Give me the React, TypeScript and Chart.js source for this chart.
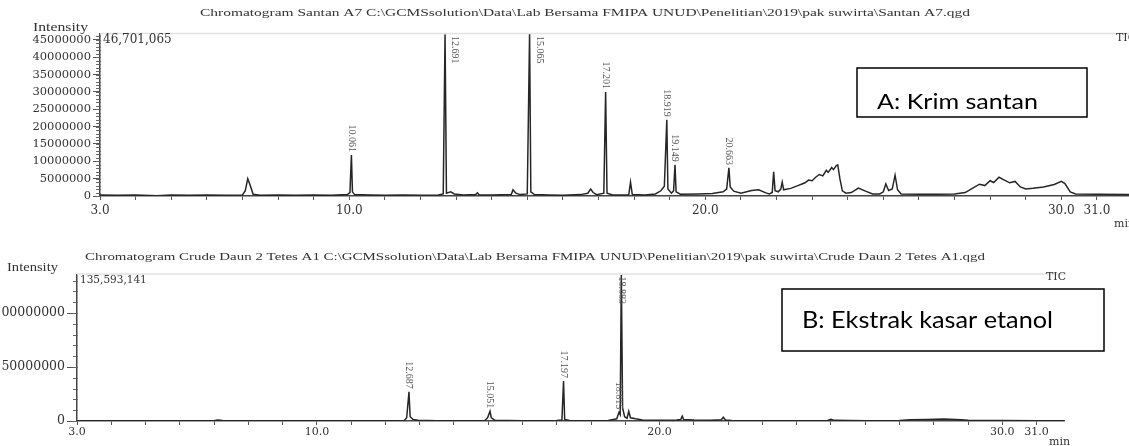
import React, { useEffect, useRef } from "react";
import { Chart, registerables } from "chart.js";
Chart.register(...registerables);

// ---------- Chromatogram A: Krim santan ----------
const topTitle =
  "Chromatogram Santan A7 C:\\GCMSsolution\\Data\\Lab Bersama FMIPA UNUD\\Penelitian\\2019\\pak suwirta\\Santan A7.qgd";
const topTimes = [
  3.0, 3.5, 4.0, 4.6, 5.0, 5.5, 6.0, 6.5, 7.0, 7.08, 7.15, 7.22, 7.3, 7.5, 8.0, 8.5, 9.0, 9.5,
  9.95, 10.02, 10.061, 10.09, 10.15, 10.6, 11.0, 11.5, 12.0, 12.5, 12.64, 12.691, 12.73, 12.85,
  12.95, 13.2, 13.55, 13.6, 13.65, 14.0, 14.55, 14.6, 14.68, 14.8, 15.0, 15.065, 15.1, 15.2,
  15.6, 16.0, 16.5, 16.7, 16.78, 16.85, 16.95, 17.15, 17.201, 17.24, 17.4, 17.85, 17.9, 17.95,
  18.3, 18.6, 18.75, 18.85, 18.919, 18.95, 19.05, 19.11, 19.149, 19.18, 19.3, 19.8, 20.2, 20.5,
  20.6, 20.663, 20.7, 20.8, 21.0, 21.3, 21.5, 21.7, 21.8, 21.88, 21.92, 21.96, 22.05, 22.12,
  22.16, 22.2, 22.4, 22.6, 22.8, 22.9, 23.0, 23.1, 23.2, 23.3, 23.4, 23.45, 23.55, 23.6, 23.68,
  23.72, 23.78, 23.85, 23.95, 24.1, 24.3, 24.5, 24.7, 24.9, 25.0, 25.07, 25.15, 25.25, 25.33,
  25.4, 25.5, 26.0, 26.5, 27.0, 27.3, 27.5, 27.7, 27.85, 28.0, 28.1, 28.25, 28.4, 28.55, 28.7,
  28.85, 29.0, 29.2, 29.5, 29.8, 30.0, 30.1, 30.25, 30.4, 31.0, 31.9,
];
const topIntensity = [
  0.3e6, 0.2e6, 0.3e6, 0.1e6, 0.3e6, 0.2e6, 0.3e6, 0.2e6, 0.3e6, 1.5e6, 5.0e6, 3.0e6, 0.5e6, 0.2e6, 0.3e6, 0.2e6, 0.3e6, 0.2e6,
  0.4e6, 1.0e6, 11.8e6, 1.2e6, 0.4e6, 0.3e6, 0.2e6, 0.3e6, 0.2e6, 0.3e6, 0.6e6, 46.6e6, 0.8e6, 1.2e6,
  0.6e6, 0.3e6, 0.4e6, 0.9e6, 0.3e6, 0.3e6, 0.4e6, 1.8e6, 0.8e6, 0.4e6, 0.6e6, 46701065, 1.2e6, 0.4e6,
  0.3e6, 0.2e6, 0.4e6, 0.8e6, 2.0e6, 1.0e6, 0.4e6, 0.8e6, 30.0e6, 0.8e6, 0.3e6, 0.3e6, 4.0e6, 0.4e6,
  0.3e6, 0.6e6, 1.5e6, 2.8e6, 22.0e6, 2.0e6, 0.8e6, 1.5e6, 9.0e6, 1.2e6, 0.5e6, 0.6e6, 0.7e6, 1.2e6,
  2.0e6, 8.1e6, 2.6e6, 1.4e6, 0.8e6, 1.6e6, 1.8e6, 0.9e6, 0.6e6, 1.0e6, 7.0e6, 1.5e6, 1.2e6, 2.0e6,
  4.0e6, 1.8e6, 2.2e6, 3.0e6, 3.8e6, 4.6e6, 4.4e6, 5.4e6, 6.2e6, 5.8e6, 7.4e6, 6.8e6, 8.2e6, 7.6e6, 8.8e6,
  9.0e6, 5.0e6, 1.5e6, 0.8e6, 1.0e6, 2.3e6, 1.4e6, 0.6e6, 0.6e6, 1.2e6, 3.5e6, 1.6e6, 2.0e6, 6.0e6,
  1.8e6, 0.6e6, 0.5e6, 0.5e6, 0.6e6, 1.0e6, 2.2e6, 3.4e6, 3.0e6, 4.4e6, 3.9e6, 5.4e6, 4.6e6, 3.8e6, 4.2e6,
  2.6e6, 2.0e6, 2.2e6, 2.6e6, 3.3e6, 4.2e6, 3.6e6, 1.2e6, 0.6e6, 0.5e6, 0.4e6,
];
const topYMax = 46701065;
const topYTicks = [0, 5000000, 10000000, 15000000, 20000000, 25000000, 30000000, 35000000, 40000000, 45000000];
const topXTicks = [3, 4, 5, 6, 7, 8, 9, 10, 11, 12, 13, 14, 15, 16, 17, 18, 19, 20, 21, 22, 23, 24, 25, 26, 27, 28, 29, 30, 31];
const topXLabeled = [3, 10, 20, 30, 31];
const topPeakTimes = [10.061, 12.691, 15.065, 17.201, 18.919, 19.149, 20.663];
const topPeakLabels = ["10.061", "12.691", "15.065", "17.201", "18.919", "19.149", "20.663"];
const topMaxLabel = "46,701,065";
const topBoxText = "A: Krim santan";

// ---------- Chromatogram B: Ekstrak kasar etanol ----------
const bottomTitle =
  "Chromatogram Crude Daun 2 Tetes A1 C:\\GCMSsolution\\Data\\Lab Bersama FMIPA UNUD\\Penelitian\\2019\\pak suwirta\\Crude Daun 2 Tetes A1.qgd";
const bottomTimes = [
  3.0, 4.0, 5.0, 6.0, 7.0, 7.1, 7.25, 8.0, 9.0, 10.0, 11.0, 12.0, 12.55, 12.62, 12.687, 12.72, 12.8,
  12.95, 13.5, 14.0, 14.9, 14.98, 15.051, 15.09, 15.2, 16.0, 17.0, 17.15, 17.197, 17.23, 17.4, 18.5,
  18.75, 18.815, 18.85, 18.883, 18.92, 18.98, 19.05, 19.1, 19.15, 19.3, 19.5, 20.0, 20.5, 20.62,
  20.66, 20.7, 21.0, 21.5, 21.8, 21.86, 21.92, 22.1, 23.0, 24.0, 24.9, 25.0, 25.1, 26.0, 27.0, 27.3,
  27.8, 28.3, 28.8, 29.0, 30.0, 31.0, 31.8,
];
const bottomIntensity = [
  0.3e6, 0.3e6, 0.2e6, 0.3e6, 0.3e6, 1.0e6, 0.4e6, 0.3e6, 0.2e6, 0.3e6, 0.2e6, 0.3e6, 0.5e6, 3.0e6, 27.0e6, 4.0e6, 1.5e6,
  0.6e6, 0.3e6, 0.3e6, 0.5e6, 3.0e6, 9.0e6, 3.0e6, 0.6e6, 0.3e6, 0.4e6, 1.0e6, 37.0e6, 1.5e6, 0.3e6, 0.4e6,
  2.0e6, 8.0e6, 6.0e6, 135593141, 12.0e6, 4.0e6, 2.5e6, 9.0e6, 3.0e6, 2.0e6, 1.0e6, 0.8e6, 1.0e6, 1.5e6,
  4.5e6, 1.5e6, 1.0e6, 0.8e6, 1.2e6, 3.5e6, 1.0e6, 0.5e6, 0.3e6, 0.3e6, 0.5e6, 1.5e6, 0.6e6, 0.3e6, 0.4e6, 1.2e6,
  1.5e6, 1.8e6, 1.2e6, 0.6e6, 0.4e6, 0.3e6, 0.3e6,
];
const bottomYMax = 135593141;
const bottomYTicks = [0, 50000000, 100000000];
const bottomXTicks = topXTicks;
const bottomXLabeled = [3, 10, 20, 30, 31];
const bottomPeakTimes = [12.687, 15.051, 17.197, 18.883, 18.815];
const bottomPeakLabels = ["12.687", "15.051", "17.197", "18.883", "18.815"];
const bottomMaxLabel = "135,593,141";
const bottomBoxText = "B: Ekstrak kasar etanol";

type Panel = {
  id: string;
  width: number;
  height: number;
  times: number[];
  values: number[];
  yMax: number;
  xMin: number;
  xMax: number;
  xTicks: number[];
  xLabeled: number[];
  yTicks: number[];
  yMinorStep: number;
  peakTimes: number[];
  peakLabels: string[];
  offLabelDx: number;
  padTop: number;
  padRight: number;
  yAxisWidth: number;
  xAxisHeight: number;
  yFont: number;
  xFont: number;
  yTickLen: number;
  xPad: number;
  title: string;
  titleX0: number;
  titleX1: number;
  titleY: number;
  intX0: number;
  intX1: number;
  intY: number;
  maxLabel: string;
  maxFont: number;
  maxY: number;
  ticX: number;
  ticY: number;
  minX: number;
  minY: number;
  box: { x: number; y: number; w: number; h: number; text: string; tx: number; tw: number; ty: number; font: number };
};

function fitText(ctx: CanvasRenderingContext2D, text: string, x0: number, x1: number, y: number, font: string) {
  ctx.save();
  ctx.font = font;
  ctx.textAlign = "left";
  ctx.textBaseline = "middle";
  const w = ctx.measureText(text).width;
  ctx.translate(x0, y);
  ctx.scale((x1 - x0) / w, 1);
  ctx.fillText(text, 0, 0);
  ctx.restore();
}

function overlay(p: Panel) {
  return {
    id: "overlay_" + p.id,
    afterDraw(chart: any) {
      const ctx: CanvasRenderingContext2D = chart.ctx;
      const ca = chart.chartArea;
      const xs = chart.scales.x;
      const ys = chart.scales.y;
      ctx.save();
      // faint frame line at top of plot
      ctx.strokeStyle = "#e2e2e2";
      ctx.lineWidth = 1.5;
      ctx.beginPath();
      ctx.moveTo(ca.left, ca.top - 0.5);
      ctx.lineTo(ca.right, ca.top - 0.5);
      ctx.stroke();
      // minor y ticks
      ctx.strokeStyle = "#666";
      ctx.lineWidth = 1;
      for (let v = 0; v <= p.yMax; v += p.yMinorStep) {
        const y = Math.round(ys.getPixelForValue(v)) + 0.5;
        ctx.beginPath();
        ctx.moveTo(ca.left - 4, y);
        ctx.lineTo(ca.left + 1, y);
        ctx.stroke();
      }
      ctx.fillStyle = "#333";
      // title
      fitText(ctx, p.title, p.titleX0, p.titleX1, p.titleY, "11px 'Liberation Serif'");
      fitText(ctx, "Intensity", p.intX0, p.intX1, p.intY, "12px 'Liberation Serif'");
      ctx.font = p.maxFont + "px 'DejaVu Serif'";
      ctx.textAlign = "left";
      ctx.textBaseline = "middle";
      ctx.fillText(p.maxLabel, ca.left + 3, p.maxY);
      ctx.font = "11px 'DejaVu Serif'";
      ctx.fillText("TIC", p.ticX, p.ticY);
      ctx.fillText("min", p.minX, p.minY);
      // peak labels
      ctx.fillStyle = "#555";
      ctx.font = "10px 'Liberation Serif'";
      p.peakTimes.forEach((t, i) => {
        const idx = p.times.indexOf(t);
        const v = p.values[idx];
        const x = xs.getPixelForValue(t);
        ctx.save();
        ctx.textBaseline = "middle";
        if (v >= p.yMax * 0.99) {
          ctx.translate(x + p.offLabelDx, ca.top + 2);
          ctx.rotate(Math.PI / 2);
          ctx.textAlign = "left";
        } else {
          ctx.translate(x, ys.getPixelForValue(v) - 3);
          ctx.rotate(Math.PI / 2);
          ctx.textAlign = "right";
        }
        ctx.fillText(p.peakLabels[i], 0, 0);
        ctx.restore();
      });
      // annotation box
      const b = p.box;
      ctx.fillStyle = "#fff";
      ctx.fillRect(b.x, b.y, b.w, b.h);
      ctx.strokeStyle = "#000";
      ctx.lineWidth = 1.5;
      ctx.strokeRect(b.x, b.y, b.w, b.h);
      ctx.fillStyle = "#000";
      fitText(ctx, b.text, b.tx, b.tx + b.tw, b.ty, b.font + "px Lato");
      ctx.restore();
    },
  };
}

function Chromatogram({ p, top }: { p: Panel; top: number }) {
  const ref = useRef<HTMLCanvasElement | null>(null);
  useEffect(() => {
    if (!ref.current) return;
    const chart = new Chart(ref.current, {
      type: "line",
      data: {
        datasets: [
          {
            data: p.times.map((t, i) => ({ x: t, y: p.values[i] })),
            borderColor: "#262626",
            borderWidth: 1.5,
            pointRadius: 0,
            tension: 0,
            fill: false,
          },
        ],
      },
      options: {
        responsive: false,
        animation: false,
        devicePixelRatio: 1,
        layout: { padding: { top: p.padTop, right: p.padRight, left: 0, bottom: 0 } },
        plugins: { legend: { display: false }, tooltip: { enabled: false }, title: { display: false } },
        scales: {
          x: {
            type: "linear",
            min: p.xMin,
            max: p.xMax,
            afterBuildTicks: (s: any) => {
              s.ticks = p.xTicks.map((v) => ({ value: v }));
            },
            afterFit: (s: any) => {
              s.height = p.xAxisHeight;
            },
            ticks: {
              autoSkip: false,
              maxRotation: 0,
              padding: p.xPad,
              color: "#333",
              font: { family: "'DejaVu Serif'", size: p.xFont },
              callback: (v: any) => (p.xLabeled.includes(Number(v)) ? Number(v).toFixed(1) : ""),
            },
            grid: { drawOnChartArea: false, drawTicks: true, tickLength: 4, color: "#555" },
            border: { display: true, color: "#444", width: 1.5 },
          },
          y: {
            type: "linear",
            min: 0,
            max: p.yMax,
            afterBuildTicks: (s: any) => {
              s.ticks = p.yTicks.map((v) => ({ value: v }));
            },
            afterFit: (s: any) => {
              s.width = p.yAxisWidth;
            },
            ticks: {
              padding: 2,
              color: "#333",
              font: { family: "'DejaVu Serif'", size: p.yFont },
              callback: (v: any) => String(v),
            },
            grid: { drawOnChartArea: false, drawTicks: true, tickLength: p.yTickLen, color: "#555" },
            border: { display: true, color: "#444", width: 1.5 },
          },
        },
      },
      plugins: [overlay(p)],
    } as any);
    return () => chart.destroy();
  }, [p]);
  return (
    <canvas
      ref={ref}
      width={p.width}
      height={p.height}
      style={{ position: "absolute", left: 0, top, width: p.width, height: p.height, display: "block" }}
    />
  );
}

const topPanel: Panel = {
  id: "a",
  width: 1129,
  height: 230,
  times: topTimes,
  values: topIntensity,
  yMax: topYMax,
  xMin: 3,
  xMax: 31.9,
  xTicks: topXTicks,
  xLabeled: topXLabeled,
  yTicks: topYTicks,
  yMinorStep: 1000000,
  peakTimes: topPeakTimes,
  peakLabels: topPeakLabels,
  offLabelDx: 10,
  padTop: 34,
  padRight: 0,
  yAxisWidth: 100,
  xAxisHeight: 34,
  yFont: 11.5,
  xFont: 12,
  yTickLen: 7,
  xPad: 4,
  title: topTitle,
  titleX0: 200,
  titleX1: 970,
  titleY: 13,
  intX0: 33,
  intX1: 88,
  intY: 28,
  maxLabel: topMaxLabel,
  maxFont: 12,
  maxY: 40,
  ticX: 1116,
  ticY: 38,
  minX: 1114,
  minY: 224,
  box: { x: 857, y: 68, w: 230, h: 49, text: topBoxText, tx: 877, tw: 161, ty: 102, font: 22 },
};

const bottomPanel: Panel = {
  id: "b",
  width: 1129,
  height: 216,
  times: bottomTimes,
  values: bottomIntensity,
  yMax: bottomYMax,
  xMin: 3,
  xMax: 31.8,
  xTicks: bottomXTicks,
  xLabeled: bottomXLabeled,
  yTicks: bottomYTicks,
  yMinorStep: 10000000,
  peakTimes: bottomPeakTimes,
  peakLabels: bottomPeakLabels,
  offLabelDx: 0,
  padTop: 44.6,
  padRight: 65,
  yAxisWidth: 77,
  xAxisHeight: 25,
  yFont: 12.5,
  xFont: 11,
  yTickLen: 10,
  xPad: 1,
  title: bottomTitle,
  titleX0: 85,
  titleX1: 985,
  titleY: 27,
  intX0: 7,
  intX1: 58,
  intY: 38,
  maxLabel: bottomMaxLabel,
  maxFont: 10.5,
  maxY: 50,
  ticX: 1046,
  ticY: 47,
  minX: 1049,
  minY: 212,
  box: { x: 782, y: 59, w: 322, h: 62, text: bottomBoxText, tx: 802, tw: 251, ty: 90, font: 24 },
};

export default function App() {
  return (
    <div style={{ position: "absolute", left: 0, top: 0, width: 1129, height: 446, background: "#fff", overflow: "hidden" }}>
      <Chromatogram p={topPanel} top={0} />
      <Chromatogram p={bottomPanel} top={230} />
    </div>
  );
}
